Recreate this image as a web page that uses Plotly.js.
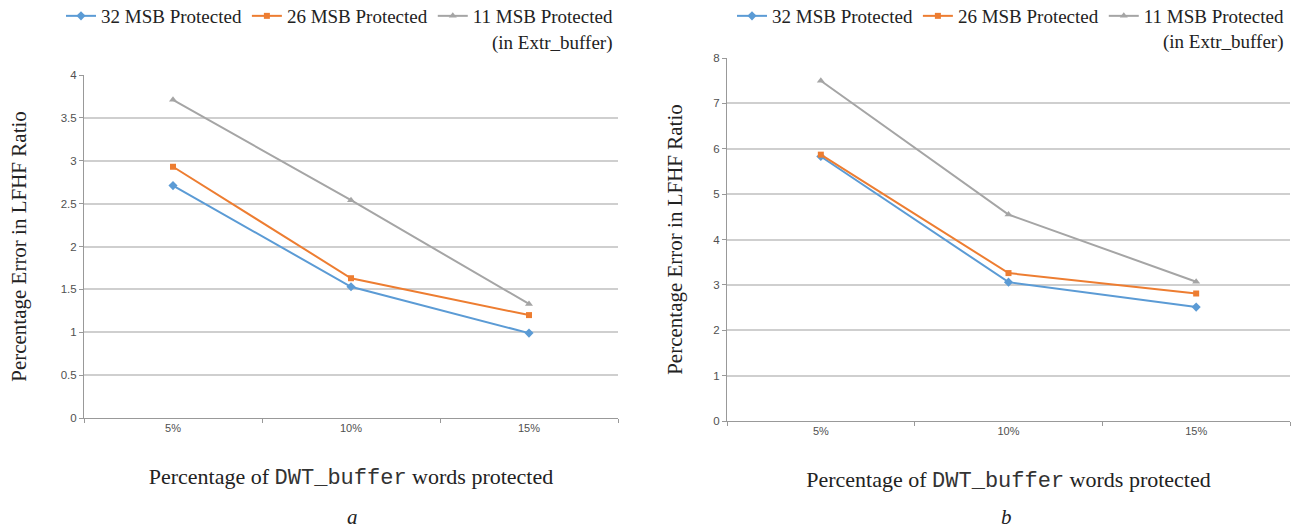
<!DOCTYPE html>
<html><head><meta charset="utf-8">
<script src="https://cdn.plot.ly/plotly-3.0.1.min.js"></script>
<style>html,body{margin:0;padding:0;background:#fff}</style>
</head><body><div id="chart" style="width:1303px;height:530px"></div>
<script>
const categories = ['5%', '10%', '15%'];
const seriesNames = ['32 MSB Protected', '26 MSB Protected', '11 MSB Protected'];
const a_msb32 = [2.71, 1.53, 0.99];
const a_msb26 = [2.93, 1.63, 1.20];
const a_msb11 = [3.71, 2.54, 1.33];
const b_msb32 = [5.83, 3.06, 2.51];
const b_msb26 = [5.87, 3.26, 2.81];
const b_msb11 = [7.50, 4.55, 3.07];
const aTicks = [0, 0.5, 1, 1.5, 2, 2.5, 3, 3.5, 4];
const bTicks = [0, 1, 2, 3, 4, 5, 6, 7, 8];
const yTitle = 'Percentage Error in LFHF Ratio';
const xTitle = 'Percentage of <span style="font-family:Liberation Mono, Courier New, monospace;fill:#333">DWT_buffer</span> words protected';
const panelLabels = ['a', 'b'];
const legendNote = '(in Extr_buffer)';

const colors = ['#5b9bd5', '#ed7d31', '#a5a5a5'];
const symbols = ['diamond', 'square', 'triangle-up'];
const serif = 'Liberation Serif, Times New Roman, serif';
const sans = 'Liberation Sans, Arial, sans-serif';

function mk(y, i, xa, ya, leg) {
  return {
    x: categories, y: y, type: 'scatter', mode: 'lines+markers',
    name: seriesNames[i], xaxis: xa, yaxis: ya, legend: leg,
    line: {color: colors[i], width: 2},
    marker: {color: colors[i], symbol: symbols[i], size: i === 1 ? 6 : 7}
  };
}
const data = [
  mk(a_msb32, 0, 'x', 'y', 'legend'),
  mk(a_msb26, 1, 'x', 'y', 'legend'),
  mk(a_msb11, 2, 'x', 'y', 'legend'),
  mk(b_msb32, 0, 'x2', 'y2', 'legend2'),
  mk(b_msb26, 1, 'x2', 'y2', 'legend2'),
  mk(b_msb11, 2, 'x2', 'y2', 'legend2')
];

function xax(domain, anchor) {
  return {
    domain: domain, anchor: anchor, type: 'category', range: [-0.5, 2.5],
    showgrid: false, showline: true, linecolor: '#999999', linewidth: 1,
    ticks: 'outside', tickson: 'boundaries', ticklen: 4, tickcolor: '#999999',
    tickfont: {family: sans, size: 11, color: '#505050'},
    title: {text: xTitle, font: {family: serif, size: 22, color: '#222'}, standoff: 35},
    automargin: false, zeroline: false, fixedrange: true
  };
}
function yax(domain, anchor, ticks, standoff) {
  return {
    domain: domain, anchor: anchor, range: [ticks[0], ticks[ticks.length - 1]],
    tickvals: ticks, showgrid: true, gridcolor: '#cfcfcf', gridwidth: 2,
    showline: true, linecolor: '#999999', linewidth: 1,
    ticks: 'outside', ticklen: 4, tickcolor: '#999999',
    tickfont: {family: sans, size: 11.5, color: '#505050'},
    title: {text: yTitle, font: {family: serif, size: 21, color: '#222'}, standoff: standoff},
    automargin: false, zeroline: false, fixedrange: true
  };
}

const W = 1303, H = 530;
const legendFont = {family: serif, size: 19, color: '#222'};
const layout = {
  width: W, height: H, margin: {l: 0, r: 0, t: 0, b: 0, autoexpand: false},
  paper_bgcolor: '#fff', plot_bgcolor: '#fff',
  showlegend: true,
  xaxis: xax([84 / W, 618 / W], 'y'),
  yaxis: yax([1 - 418 / H, 1 - 75 / H], 'x', aTicks, 28),
  xaxis2: xax([727 / W, 1290 / W], 'y2'),
  yaxis2: yax([1 - 421 / H, 1 - 58 / H], 'x2', bTicks, 24),
  legend: {orientation: 'h', x: 618 / W, xanchor: 'right', y: 1 + 3 / H, yanchor: 'top',
    font: legendFont, itemwidth: 30, bgcolor: 'rgba(0,0,0,0)', tracegroupgap: 0},
  legend2: {orientation: 'h', x: 1289 / W, xanchor: 'right', y: 1 + 3 / H, yanchor: 'top',
    font: legendFont, itemwidth: 30, bgcolor: 'rgba(0,0,0,0)', tracegroupgap: 0},
  annotations: [
    {text: legendNote, xref: 'paper', yref: 'paper', x: 614 / W, y: 1 - 43 / H, xanchor: 'right', yanchor: 'middle',
      showarrow: false, font: legendFont},
    {text: legendNote, xref: 'paper', yref: 'paper', x: 1285 / W, y: 1 - 42 / H, xanchor: 'right', yanchor: 'middle',
      showarrow: false, font: legendFont},
    {text: '<i>' + panelLabels[0] + '</i>', xref: 'paper', yref: 'paper', x: 352 / W, y: 1 - 517 / H, xanchor: 'center', yanchor: 'middle',
      showarrow: false, font: {family: serif, size: 21, color: '#222'}},
    {text: '<i>' + panelLabels[1] + '</i>', xref: 'paper', yref: 'paper', x: 1006 / W, y: 1 - 517 / H, xanchor: 'center', yanchor: 'middle',
      showarrow: false, font: {family: serif, size: 21, color: '#222'}}
  ]
};
Plotly.newPlot('chart', data, layout, {displayModeBar: false, staticPlot: true});
</script></body></html>
